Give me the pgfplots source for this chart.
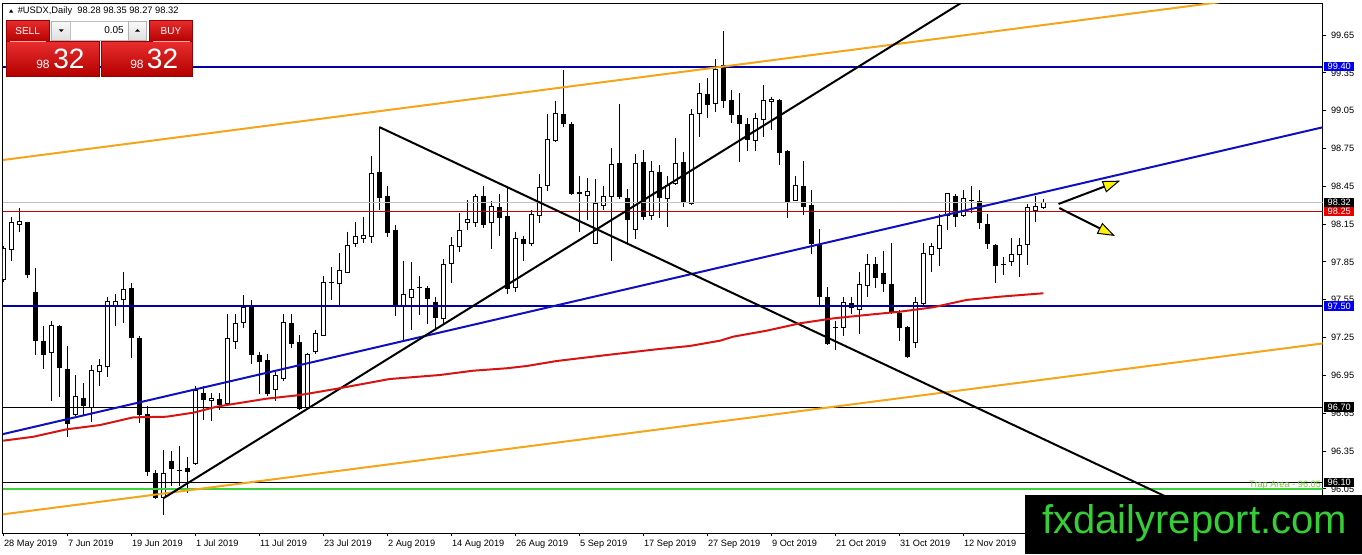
\documentclass[border=0pt]{standalone}
\usepackage{fontspec}
\setmainfont{Liberation Sans}
\usepackage{pgfplots}
\pgfplotsset{compat=1.18}
\usepackage{pgfplotstable}
\usetikzlibrary{arrows.meta}

\definecolor{hblue}{RGB}{0,0,165}
\definecolor{dblue}{RGB}{15,15,190}
\definecolor{orng}{RGB}{245,165,25}
\definecolor{trapgreen}{RGB}{60,210,60}
\definecolor{traptxt}{RGB}{110,210,50}
\definecolor{maRed}{RGB}{215,20,20}
\definecolor{lvlred}{RGB}{200,0,0}
\definecolor{bidgrey}{RGB}{192,192,192}
\definecolor{tagblue}{RGB}{0,0,235}
\definecolor{tagred}{RGB}{230,0,0}
\definecolor{wmgreen}{RGB}{55,205,55}
\definecolor{pnlTop}{RGB}{232,45,45}
\definecolor{pnlBot}{RGB}{180,0,0}
\definecolor{pnlEdge}{RGB}{150,0,0}

\newcommand{\tagfont}{\fontsize{6.9}{8}\selectfont}

% daily candles, USDX, 28 May 2019 = bar 0
\pgfplotstableread{
i o h l c
0 97.71 97.98 97.69 97.96
1 97.95 98.21 97.86 98.16
2 98.15 98.28 98.09 98.17
3 98.16 98.17 97.72 97.75
4 97.61 97.80 97.11 97.23
5 97.22 97.34 97.00 97.12
6 97.13 97.38 96.75 97.35
7 97.34 97.35 96.78 97.01
8 97.00 97.18 96.46 96.57
9 96.64 96.95 96.63 96.78
10 96.77 96.89 96.63 96.71
11 96.70 97.03 96.58 96.99
12 96.98 97.08 96.87 97.03
13 97.02 97.57 96.94 97.54
14 97.50 97.60 97.34 97.54
15 97.55 97.77 97.37 97.63
16 97.64 97.68 97.09 97.25
17 97.24 97.26 96.57 96.64
18 96.64 96.71 96.15 96.19
19 96.17 96.20 95.97 95.98
20 95.98 96.36 95.84 96.17
21 96.27 96.35 96.07 96.21
22 96.20 96.39 96.07 96.20
23 96.21 96.30 96.02 96.19
24 96.25 96.87 96.24 96.83
25 96.81 96.87 96.60 96.76
26 96.75 96.81 96.59 96.77
27 96.76 96.81 96.68 96.72
28 96.73 97.44 96.72 97.24
29 97.22 97.44 97.16 97.36
30 97.37 97.59 97.33 97.49
31 97.50 97.55 97.04 97.12
32 97.11 97.14 96.80 97.06
33 97.07 97.12 96.79 96.81
34 96.84 96.98 96.75 96.95
35 96.93 97.44 96.91 97.37
36 97.36 97.44 97.17 97.20
37 97.21 97.27 96.68 96.69
38 96.70 97.13 96.68 97.12
39 97.14 97.31 97.12 97.28
40 97.27 97.74 97.26 97.69
41 97.69 97.81 97.55 97.69
42 97.68 97.92 97.50 97.78
43 97.77 98.09 97.76 97.98
44 98.00 98.17 97.97 98.05
45 98.04 98.21 98.00 98.06
46 98.05 98.69 98.00 98.55
47 98.56 98.92 98.26 98.36
48 98.37 98.45 98.05 98.08
49 98.10 98.14 97.42 97.50
50 97.50 97.86 97.23 97.59
51 97.57 97.85 97.31 97.63
52 97.65 97.74 97.43 97.65
53 97.64 97.66 97.36 97.56
54 97.53 97.57 97.32 97.41
55 97.40 97.87 97.36 97.83
56 97.84 98.05 97.68 97.98
57 97.97 98.24 97.93 98.10
58 98.16 98.34 98.10 98.19
59 98.16 98.39 98.13 98.37
60 98.37 98.45 98.12 98.15
61 98.16 98.33 97.95 98.29
62 98.28 98.39 98.06 98.20
63 98.21 98.45 97.60 97.64
64 97.65 98.09 97.61 98.04
65 98.03 98.06 97.86 98.00
66 98.00 98.26 97.98 98.23
67 98.22 98.55 98.16 98.44
68 98.46 99.02 98.41 98.82
69 98.81 99.13 98.80 99.03
70 99.02 99.37 98.92 98.95
71 98.94 98.96 98.38 98.39
72 98.40 98.53 98.09 98.39
73 98.38 98.52 98.18 98.41
74 98.00 98.51 97.99 98.31
75 98.30 98.45 98.26 98.37
76 98.37 98.75 97.86 98.62
77 98.63 99.10 98.35 98.37
78 98.35 98.43 98.00 98.19
79 98.11 98.71 98.03 98.63
80 98.64 98.74 98.18 98.21
81 98.22 98.65 98.18 98.57
82 98.56 98.62 98.20 98.36
83 98.35 98.53 98.13 98.46
84 98.47 98.83 98.46 98.63
85 98.64 98.72 98.29 98.32
86 98.31 99.06 98.30 99.02
87 99.03 99.27 98.84 99.19
88 99.18 99.31 98.99 99.10
89 99.11 99.46 99.04 99.38
90 99.41 99.68 99.07 99.13
91 99.13 99.21 98.95 99.02
92 99.01 99.19 98.64 98.95
93 98.94 98.99 98.73 98.82
94 98.81 99.03 98.73 98.99
95 98.98 99.25 98.84 99.13
96 99.12 99.16 98.90 99.14
97 99.13 99.14 98.62 98.72
98 98.73 98.74 98.20 98.33
99 98.34 98.53 98.33 98.46
100 98.45 98.65 98.22 98.29
101 98.30 98.42 97.91 98.00
102 97.99 98.11 97.50 97.58
103 97.57 97.65 97.19 97.20
104 97.33 97.38 97.15 97.33
105 97.33 97.57 97.26 97.53
106 97.52 97.57 97.44 97.49
107 97.47 97.77 97.28 97.67
108 97.66 97.91 97.57 97.83
109 97.83 97.89 97.64 97.73
110 97.76 97.94 97.61 97.68
111 97.67 98.00 97.44 97.45
112 97.44 97.47 97.22 97.33
113 97.33 97.34 97.09 97.10
114 97.21 97.57 97.17 97.53
115 97.52 98.00 97.51 97.92
116 97.91 98.00 97.77 97.97
117 97.96 98.23 97.82 98.14
118 98.22 98.40 98.10 98.39
119 98.37 98.39 98.13 98.21
120 98.22 98.42 98.21 98.35
121 98.34 98.45 98.24 98.34
122 98.33 98.42 98.11 98.16
123 98.15 98.23 97.95 98.00
124 97.98 97.99 97.68 97.82
125 97.83 97.89 97.75 97.83
126 97.85 98.04 97.82 97.91
127 97.91 98.04 97.73 97.98
128 97.99 98.31 97.83 98.28
129 98.26 98.37 98.17 98.29
130 98.28 98.35 98.27 98.32
}\candles

\begin{document}
\begin{tikzpicture}[x=0.75pt,y=-0.75pt]
\begin{axis}[
  at={(2.25pt,-399.75pt)}, anchor=south west,
  scale only axis, width=989.625pt, height=397.5pt,
  xmin=-0.0375, xmax=164.9, ymin=95.7008, ymax=99.9038,
  enlargelimits=false,
  clip mode=individual,
  axis line style={line width=0.75pt},
  tick align=outside, major tick length=2.5pt,
  tick style={black, line width=0.75pt},
  xtick pos=left, ytick pos=right, yticklabel pos=right,
  xtick={0,8,...,120},
  xticklabels={28 May 2019,7 Jun 2019,19 Jun 2019,1 Jul 2019,11 Jul 2019,23 Jul 2019,2 Aug 2019,14 Aug 2019,26 Aug 2019,5 Sep 2019,17 Sep 2019,27 Sep 2019,9 Oct 2019,21 Oct 2019,31 Oct 2019,12 Nov 2019},
  ytick={96.05,96.35,96.65,96.95,97.25,97.55,97.85,98.15,98.45,98.75,99.05,99.35,99.65},
  yticklabel={\pgfmathprintnumber[fixed,fixed zerofill,precision=2,assume math mode=true]{\tick}},
  scaled y ticks=false,
  tick label style={font=\tagfont},
  xticklabel style={anchor=north west, inner sep=0pt, xshift=0.4pt, yshift=-2.3pt},
  yticklabel style={anchor=west, inner sep=0pt, xshift=3.75pt},
]
% candles: wicks, bodies, white fill of rising days
\addplot[draw=none, mark=none,
  error bars/.cd, y dir=minus, y explicit, error mark=none,
  error bar style={draw=black, line width=0.75pt}]
  table[x=i, y=h, y error minus expr={\thisrow{h}-\thisrow{l}}] {\candles};
\addplot[draw=none, mark=none,
  error bars/.cd, y dir=minus, y explicit, error mark=none,
  error bar style={draw=black, line width=3.75pt}]
  table[x=i, y expr={max(\thisrow{o},\thisrow{c})+0.004},
        y error minus expr={abs(\thisrow{c}-\thisrow{o})+0.008}] {\candles};
\addplot[draw=none, mark=none,
  restrict expr to domain={\thisrow{c}-\thisrow{o}}{0.011:5},
  error bars/.cd, y dir=minus, y explicit, error mark=none,
  error bar style={draw=white, line width=2.25pt}]
  table[x=i, y expr={\thisrow{c}-0.004},
        y error minus expr={\thisrow{c}-\thisrow{o}-0.008}] {\candles};

% horizontal levels
\addplot[bidgrey, line width=0.75pt] coordinates {(-1,98.32) (166,98.32)};
\addplot[lvlred, line width=0.75pt] coordinates {(-1,98.25) (166,98.25)};
\addplot[black, line width=0.75pt] coordinates {(-1,96.70) (166,96.70)};
\addplot[black, line width=0.75pt] coordinates {(-1,96.10) (166,96.10)};
\addplot[trapgreen, line width=2pt] coordinates {(-1,96.05) (166,96.05)};
\addplot[hblue, line width=1.5pt] coordinates {(-1,99.40) (166,99.40)};
\addplot[hblue, line width=1.5pt] coordinates {(-1,97.50) (166,97.50)};

% channel and trend lines
\addplot[orng, line width=1.5pt] coordinates {(-1,98.651) (160,99.976)};
\addplot[orng, line width=1.5pt] coordinates {(-1,95.841) (166,97.213)};
\addplot[dblue, line width=1.5pt] coordinates {(-1,96.471) (166,98.934)};
\addplot[black, line width=1.5pt] coordinates {(20,95.976) (122,99.994)};
\addplot[black, line width=1.5pt] coordinates {(47,98.92) (150,95.85)};

% moving average
\addplot[maRed, line width=1.5pt] coordinates {
(0,96.433) (3.75,96.464) (7.9,96.523) (12.1,96.557) (16.25,96.618)
(20.4,96.623) (23.75,96.655) (26.7,96.703) (28.75,96.724) (32.9,96.766)
(37.1,96.795) (41.25,96.840) (48.3,96.922) (54.6,96.954) (58.75,96.988)
(62.9,97.007) (65.4,97.025) (69.2,97.065) (75.4,97.112) (81.7,97.158)
(85.8,97.184) (89.6,97.226) (91.25,97.258) (95.4,97.305) (99.6,97.364)
(103.75,97.403) (107.9,97.430) (112.1,97.456) (116.25,97.491) (120.4,97.549)
(124.6,97.575) (130,97.602)};

% scenario arrows
\addplot[black, line width=1.5pt, -{Triangle[length=13pt, width=9pt, fill=yellow, line width=0.75pt]}]
  coordinates {(131.9,98.310) (139.6,98.495)};
\addplot[black, line width=1.5pt, -{Triangle[length=13pt, width=9pt, fill=yellow, line width=0.75pt]}]
  coordinates {(132.0,98.278) (138.96,98.056)};

% price tags on the scale
\node[anchor=base east, inner sep=0pt, text=traptxt, font=\tagfont, xshift=-1pt, yshift=1pt]
  at (axis cs:164.9,96.05) {Trap Area - 96.05};
\node[anchor=west, fill=tagblue, text=white, font=\tagfont, inner xsep=2.6pt, inner ysep=1.1pt, xshift=1.1pt]
  at (axis cs:164.9,99.40) {99.40};
\node[anchor=west, fill=tagblue, text=white, font=\tagfont, inner xsep=2.6pt, inner ysep=1.1pt, xshift=1.1pt]
  at (axis cs:164.9,97.50) {97.50};
\node[anchor=west, fill=black, text=white, font=\tagfont, inner xsep=2.6pt, inner ysep=1.1pt, xshift=1.1pt]
  at (axis cs:164.9,98.32) {98.32};
\node[anchor=west, fill=tagred, text=white, font=\tagfont, inner xsep=2.6pt, inner ysep=1.1pt, xshift=1.1pt]
  at (axis cs:164.9,98.25) {98.25};
\node[anchor=west, fill=black, text=white, font=\tagfont, inner xsep=2.6pt, inner ysep=1.1pt, xshift=1.1pt]
  at (axis cs:164.9,96.70) {96.70};
\node[anchor=west, fill=black, text=white, font=\tagfont, inner xsep=2.6pt, inner ysep=1.1pt, xshift=1.1pt]
  at (axis cs:164.9,96.10) {96.10};
\end{axis}

% title line
\fill[black] (9,12.7) -- (13.3,12.7) -- (11.15,9.3) -- cycle;
\node[anchor=west, inner sep=0pt, font=\fontsize{7}{8}\selectfont] at (17.5,11)
  {\#USDX,Daily~~98.28 98.35 98.27 98.32};

% one-click trading panel
\path[draw=pnlEdge, line width=0.6pt, top color=pnlTop, bottom color=pnlBot] (6,20) rectangle (49.3,41.7);
\path[draw=pnlEdge, line width=0.6pt, top color=pnlTop, bottom color=pnlBot] (149.3,20) rectangle (192.7,41.7);
\path[draw=pnlEdge, line width=0.6pt, top color=pnlTop, bottom color=pnlBot] (6,41.7) rectangle (99.3,76);
\path[draw=pnlEdge, line width=0.6pt, top color=pnlTop, bottom color=pnlBot] (101,41.7) rectangle (192.7,76);
\draw[red!35!white, line width=0.6pt] (10,41.7) -- (46,41.7) (152.5,41.7) -- (189.5,41.7);
\node[text=white, font=\fontsize{7.5}{9}\selectfont] at (27.6,31) {SELL};
\node[text=white, font=\fontsize{7.5}{9}\selectfont] at (171,31) {BUY};
\path[draw=gray!60, top color=gray!5, bottom color=gray!25] (51.7,21) rectangle (70.7,40);
\fill[black] (58.7,29.3) -- (63.7,29.3) -- (61.2,32) -- cycle;
\path[draw=gray!50, fill=white] (70.7,21) rectangle (128.3,40);
\node[anchor=east, inner sep=0pt, font=\fontsize{7.5}{9}\selectfont] at (124,30.5) {0.05};
\path[draw=gray!60, top color=gray!5, bottom color=gray!25] (128.3,21) rectangle (146.7,40);
\fill[black] (135,31.7) -- (140,31.7) -- (137.5,29) -- cycle;
\node[anchor=base west, inner sep=0pt, text=white, font=\fontsize{9}{9}\selectfont] at (36,68.3) {98};
\node[anchor=base west, inner sep=0pt, text=white, font=\fontsize{21}{21}\selectfont] at (53,68.3) {32};
\node[anchor=base west, inner sep=0pt, text=white, font=\fontsize{9}{9}\selectfont] at (130,68.3) {98};
\node[anchor=base west, inner sep=0pt, text=white, font=\fontsize{21}{21}\selectfont] at (146.7,68.3) {32};

% watermark
\fill[black] (1025,495) rectangle (1362,554);
\node[anchor=base west, inner sep=0pt, text=wmgreen, font=\fontsize{30}{30}\selectfont] at (1042,533.3) {fxdailyreport.com};

\pgfresetboundingbox
\path[use as bounding box] (0,0) rectangle (1362,554);
\end{tikzpicture}
\end{document}
